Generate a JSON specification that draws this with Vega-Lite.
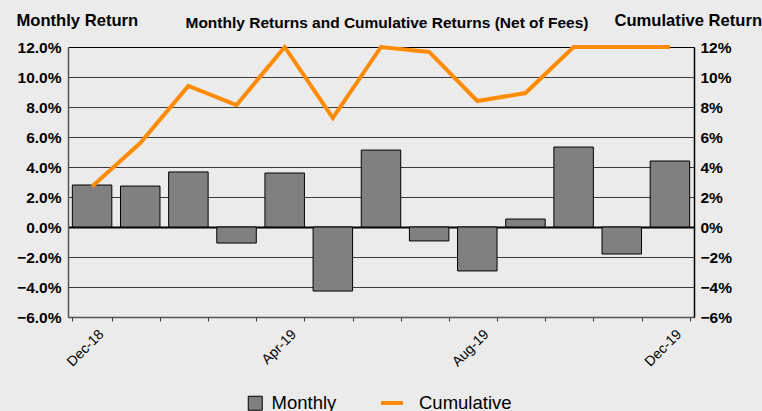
{
  "$schema": "https://vega.github.io/schema/vega-lite/v6.json",
  "width": 626,
  "height": 270,
  "autosize": {"type": "none"},
  "padding": {"left": 68, "top": 47, "right": 68, "bottom": 94},
  "background": "#ebebeb",
  "config": {"view": {"stroke": null}, "font": "Liberation Sans", "axis": {"labelOverlap": false}},
  "title": {
    "text": "Monthly Returns and Cumulative Returns (Net of Fees)",
    "font": "Liberation Sans",
    "fontSize": 15.5,
    "fontWeight": "bold",
    "color": "#000000",
    "anchor": "middle",
    "frame": "group",
    "offset": -19,
    "dx": 6
  },
  "data": {
    "values": [
      {"month": "Dec-18", "monthly": 2.8, "cumulative": 2.7},
      {"month": "Jan-19", "monthly": 2.73, "cumulative": 5.6},
      {"month": "Feb-19", "monthly": 3.67, "cumulative": 9.4},
      {"month": "Mar-19", "monthly": -1.07, "cumulative": 8.13},
      {"month": "Apr-19", "monthly": 3.6, "cumulative": 12.0},
      {"month": "May-19", "monthly": -4.27, "cumulative": 7.27},
      {"month": "Jun-19", "monthly": 5.13, "cumulative": 12.0},
      {"month": "Jul-19", "monthly": -0.93, "cumulative": 11.67},
      {"month": "Aug-19", "monthly": -2.93, "cumulative": 8.4},
      {"month": "Sep-19", "monthly": 0.53, "cumulative": 8.93},
      {"month": "Oct-19", "monthly": 5.33, "cumulative": 12.0},
      {"month": "Nov-19", "monthly": -1.8, "cumulative": 12.0},
      {"month": "Dec-19", "monthly": 4.4, "cumulative": 12.0}
    ]
  },
  "layer": [
    {
      "mark": {"type": "bar", "stroke": "#000000", "strokeWidth": 1},
      "encoding": {
        "x": {
          "field": "month",
          "type": "ordinal",
          "sort": null,
          "scale": {"paddingInner": 0.18, "paddingOuter": 0.09},
          "axis": {
            "title": null,
            "tickBand": "extent",
            "domainColor": "#555555",
            "domainWidth": 1.5,
            "tickColor": "#333333",
            "tickSize": 4,
            "labelAngle": -45,
            "labelAlign": "right",
            "labelBaseline": "middle",
            "labelPadding": 11,
            "labelOffset": 9,
            "labelFontSize": 14,
            "labelColor": "#000000",
            "labelOverlap": false,
            "labelExpr": "test(/^(Dec-18|Apr-19|Aug-19|Dec-19)$/, datum.value) ? datum.value : ''"
          }
        },
        "y": {
          "field": "monthly",
          "type": "quantitative",
          "scale": {"domain": [-6, 12], "nice": false},
          "axis": {
            "values": [-6, -4, -2, 0, 2, 4, 6, 8, 10, 12],
            "labelExpr": "format(datum.value, '.1f') + '%'",
            "labelOverlap": false,
            "labelFontSize": 15.5,
            "labelFontWeight": "bold",
            "labelColor": "#000000",
            "labelPadding": 7,
            "ticks": false,
            "domainColor": "#555555",
            "domainWidth": 1.5,
            "grid": true,
            "gridColor": {"condition": {"test": "datum.value === 0 || datum.value === 12", "value": "#000000"}, "value": "#3c3c3c"},
            "gridWidth": {"condition": {"test": "datum.value === 0", "value": 2}, "value": 1.2},
            "gridOpacity": 1,
            "title": "Monthly Return",
            "titleAngle": 0,
            "titleAlign": "left",
            "titleBaseline": "alphabetic",
            "titleX": -52,
            "titleY": -22,
            "titleFont": "Liberation Sans",
            "titleFontSize": 16.6,
            "titleFontWeight": "bold",
            "titleColor": "#000000"
          }
        },
        "fill": {
          "datum": "Monthly",
          "scale": {"range": ["#808080"]},
          "legend": {
            "orient": "none",
            "legendX": 178,
            "legendY": 347,
            "title": null,
            "symbolType": "square",
            "symbolSize": 196,
            "symbolStrokeColor": "#000000",
            "symbolStrokeWidth": 1,
            "labelFontSize": 18.5,
            "labelColor": "#000000",
            "labelOffset": 7
          }
        }
      }
    },
    {
      "mark": {"type": "line", "strokeWidth": 4, "strokeJoin": "miter"},
      "encoding": {
        "x": {"field": "month", "type": "ordinal", "sort": null},
        "y": {
          "field": "cumulative",
          "type": "quantitative",
          "scale": {"domain": [-6, 12], "nice": false},
          "axis": {
            "orient": "right",
            "values": [-6, -4, -2, 0, 2, 4, 6, 8, 10, 12],
            "labelExpr": "format(datum.value, '.0f') + '%'",
            "labelOverlap": false,
            "labelFontSize": 15.5,
            "labelFontWeight": "bold",
            "labelColor": "#000000",
            "labelPadding": 6,
            "ticks": false,
            "domainColor": "#000000",
            "domainWidth": 1.5,
            "grid": false,
            "title": "Cumulative Return",
            "titleAngle": 0,
            "titleAlign": "left",
            "titleBaseline": "alphabetic",
            "titleX": -80,
            "titleY": -22,
            "titleFont": "Liberation Sans",
            "titleFontSize": 16.6,
            "titleFontWeight": "bold",
            "titleColor": "#000000"
          }
        },
        "stroke": {
          "datum": "Cumulative",
          "scale": {"range": ["#ff8c00"]},
          "legend": {
            "orient": "none",
            "legendX": 311,
            "legendY": 343,
            "title": null,
            "symbolType": "stroke",
            "symbolSize": 484,
            "symbolStrokeWidth": 4,
            "labelFontSize": 18.5,
            "labelColor": "#000000",
            "labelOffset": 14
          }
        }
      }
    }
  ],
  "resolve": {"scale": {"y": "independent"}}
}
